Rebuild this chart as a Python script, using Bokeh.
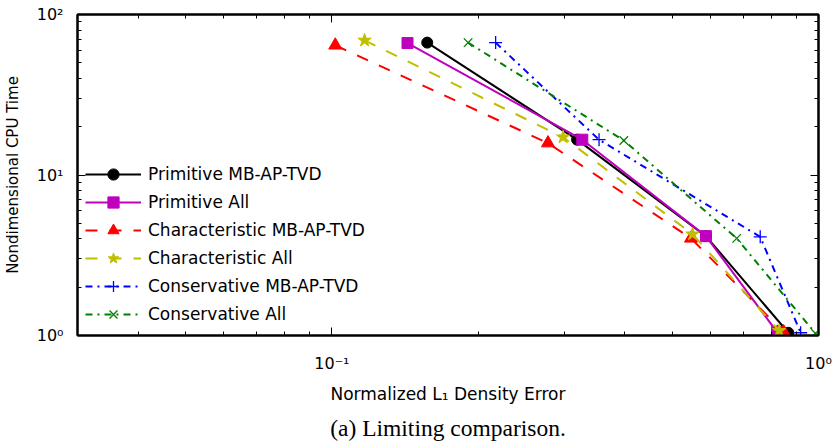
from bokeh.plotting import figure
from bokeh.models import (Legend, LegendItem, FixedTicker, LogAxis, CustomJSTickFormatter, Title)
from bokeh.embed import file_html
from bokeh.resources import INLINE

# ---- data ----
x_prim_mb = [0.157, 0.319, 0.587, 0.867]
y_prim_mb = [66.8, 16.6, 4.16, 1.04]
x_prim_all = [0.143, 0.327, 0.587, 0.822]
y_prim_all = [66.4, 16.6, 4.16, 1.05]
x_char_mb = [0.1016, 0.278, 0.547, 0.848]
y_char_mb = [64.3, 15.8, 4.03, 1.05]
x_char_all = [0.1167, 0.2986, 0.551, 0.83]
y_char_all = [69.0, 17.2, 4.28, 1.07]
x_cons_mb = [0.217, 0.354, 0.759, 0.919]
y_cons_mb = [66.8, 16.6, 4.12, 1.04]
x_cons_all = [0.1905, 0.398, 0.679, 0.986]
y_cons_all = [66.8, 16.4, 4.03, 1.03]

labels = ["Primitive MB-AP-TVD", "Primitive All", "Characteristic MB-AP-TVD",
          "Characteristic All", "Conservative MB-AP-TVD", "Conservative All"]

x_major = [0.1, 1.0]
x_minor = [m * 0.01 for m in range(3, 10)] + [m * 0.1 for m in range(2, 10)]
y_major = [1, 10, 100]
y_minor = [m for m in range(2, 10)] + [m * 10 for m in range(2, 10)]

FONT = "DejaVu Sans"

p = figure(width=834, height=448, x_axis_type="log", y_axis_type="log",
           x_range=(0.03, 1.0), y_range=(1.0, 100.0),
           output_backend="svg", toolbar_location=None,
           min_border_left=74, min_border_right=16, min_border_top=14, min_border_bottom=113)
p.grid.visible = False
p.background_fill_color = "white"
p.border_fill_color = "white"
p.outline_line_color = "black"
p.outline_line_width = 2

sup_code = """
const e = Math.round(Math.log10(tick));
const m = {'-':'\u207b','0':'\u2070','1':'\u00b9','2':'\u00b2','3':'\u00b3','4':'\u2074','5':'\u2075','6':'\u2076','7':'\u2077','8':'\u2078','9':'\u2079'};
return '10' + String(e).split('').map(c => m[c]).join('');
"""

def style_axis(ax, major, minor, show_labels):
    ax.ticker = FixedTicker(ticks=major, minor_ticks=minor)
    ax.axis_line_color = "black"
    ax.axis_line_width = 2
    ax.major_tick_in = 8
    ax.major_tick_out = 0
    ax.minor_tick_in = 4
    ax.minor_tick_out = 0
    ax.major_tick_line_color = "black"
    ax.minor_tick_line_color = "black"
    ax.major_tick_line_width = 1
    ax.minor_tick_line_width = 1
    if show_labels:
        ax.formatter = CustomJSTickFormatter(code=sup_code)
        ax.major_label_text_font = FONT
        ax.major_label_text_font_size = "16px"
        ax.major_label_text_color = "black"
    else:
        ax.formatter = CustomJSTickFormatter(code="return '';")
        ax.major_label_standoff = 0
        ax.major_label_text_font_size = "1px"

xa = p.xaxis[0]
ya = p.yaxis[0]
style_axis(xa, x_major, x_minor, True)
style_axis(ya, y_major, y_minor, True)
xa.major_label_standoff = 18
ya.major_label_standoff = 14
xa.axis_label = "Normalized L\u2081 Density Error"
ya.axis_label = "Nondimensional CPU Time"
for ax in (xa, ya):
    ax.axis_label_text_font = FONT
    ax.axis_label_text_font_style = "normal"
    ax.axis_label_text_color = "black"
xa.axis_label_text_font_size = "17px"
ya.axis_label_text_font_size = "15px"
xa.axis_label_standoff = 8
ya.axis_label_standoff = 12

top = LogAxis()
right = LogAxis()
style_axis(top, x_major, x_minor, False)
style_axis(right, y_major, y_minor, False)
p.add_layout(top, "above")
p.add_layout(right, "right")

series = [
    (x_prim_mb, y_prim_mb, "#000000", None, "circle", 11),
    (x_prim_all, y_prim_all, "#bf00bf", None, "square", 11),
    (x_char_mb, y_char_mb, "#ff0000", "12 12", "triangle", 13),
    (x_char_all, y_char_all, "#bfbf00", "12 12", "star", 14),
    (x_cons_mb, y_cons_mb, "#0000ff", "7 5 2 5", "cross", 13),
    (x_cons_all, y_cons_all, "#008000", "7 5 2 5", "x", 12),
]

items = []
for (xs, ys, col, dash, marker, size), lab in zip(series, labels):
    kw = dict(line_color=col, line_width=2)
    if dash:
        kw["line_dash"] = dash
    lr = p.line(xs, ys, **kw)
    if marker in ("cross", "x"):
        sr = p.scatter(xs, ys, marker=marker, size=size, line_color=col, line_width=1.3, fill_color=None)
    else:
        sr = p.scatter(xs, ys, marker=marker, size=size, line_color=col, fill_color=col, line_width=1)
    items.append(LegendItem(label=lab, renderers=[lr, sr]))

legend = Legend(items=items, location=(8, 7))
legend.border_line_alpha = 0
legend.background_fill_alpha = 0
legend.padding = 0
legend.margin = 0
legend.spacing = 0
legend.glyph_width = 56
legend.glyph_height = 28
legend.label_height = 28
legend.label_standoff = 7
legend.label_text_font = FONT
legend.label_text_font_size = "17px"
legend.label_text_color = "black"
p.add_layout(legend, "center")

cap = Title(text="(a) Limiting comparison.", align="center")
cap.text_font = "Liberation Serif"
cap.text_font_size = "23.5px"
cap.text_font_style = "normal"
cap.text_color = "black"
cap.standoff = 12
p.add_layout(cap, "below")

open("out.html", "w").write(file_html(p, INLINE))
